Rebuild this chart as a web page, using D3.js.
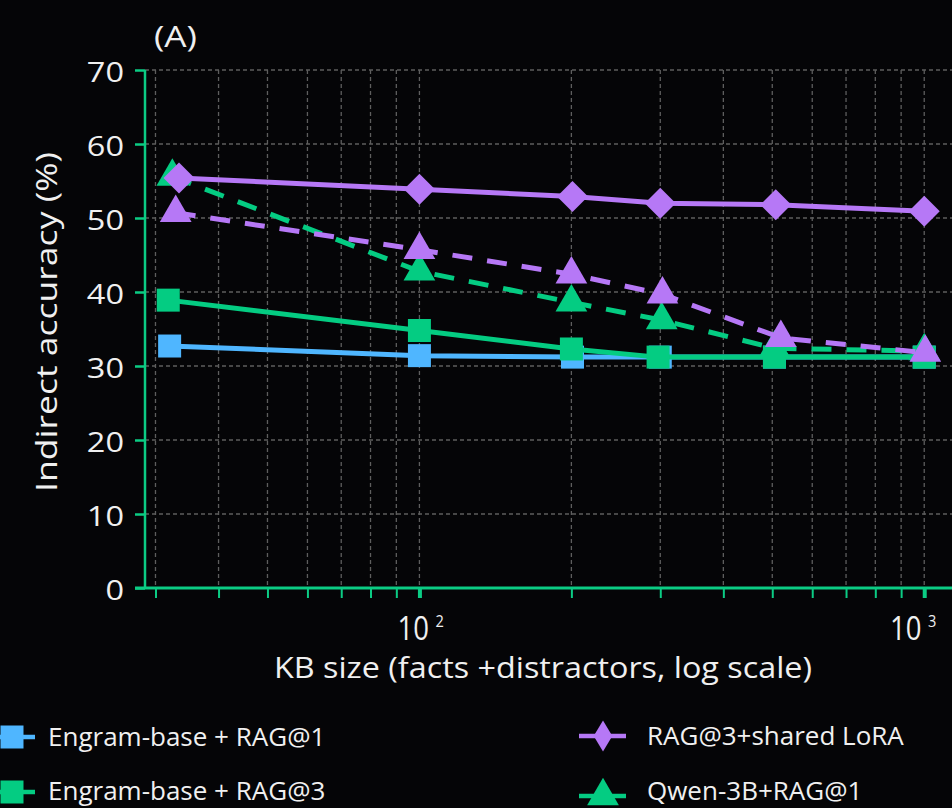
<!DOCTYPE html>
<html><head><meta charset="utf-8">
<script src="https://cdn.jsdelivr.net/npm/d3@7"></script>
<style>html,body{margin:0;padding:0;background:#050507;}svg{display:block;}</style>
</head><body>
<svg id="chart" width="952" height="808"></svg>
<script>
(function(){
// ---------- data ----------
const blueX   = [32, 100, 201, 300, 505, 1000];
const blueY   = [32.7, 31.4, 31.2, 31.2, 31.2, 31.2];
const greenSqX = [31.8, 100, 200, 297, 505, 1000];
const greenSqY = [38.9, 34.8, 32.3, 31.2, 31.2, 31.2];
const greenTriX = [32.4, 100, 200, 302, 505, 1000];
const greenTriY = [55.6, 42.8, 38.6, 36.2, 32.4, 32.0];
const purpleTriX = [32.9, 100, 200, 303, 520, 1005];
const purpleTriY = [50.7, 45.7, 42.4, 39.7, 33.8, 31.8];
const diamondX = [33.4, 100, 201, 300, 508, 1000];
const diamondY = [55.4, 53.9, 52.9, 52.0, 51.8, 50.9];
const yTicks = [0, 10, 20, 30, 40, 50, 60, 70];
const xMinorTicks = [30,40,50,60,70,80,90,100,200,300,400,500,600,700,800,900,1000];
const xMajorTicks = [100, 1000];
const xMajorExp = ["2","3"];
const legendLeft = ["Engram-base + RAG@1","Engram-base + RAG@3"];
const legendRight = ["RAG@3+shared LoRA","Qwen-3B+RAG@1"];

// ---------- setup ----------
const C = {blue:"#4fb6ff", green:"#04cc82", purple:"#b678f6", axis:"#0bcc84", grid:"#5e5e5e", text:"#f0f0f0"};
const svg = d3.select("#chart");
svg.append("rect").attr("width",952).attr("height",808).attr("fill","#050507");

const pLeft = 145, pTop = 70, pBottom = 588;
const decadePx = 504.8;
const xMin = 28.6, xMax = 1180;
const x = d3.scaleLog().domain([xMin, xMax]).range([pLeft, pLeft + decadePx*Math.log10(xMax/xMin)]);
const y = d3.scaleLinear().domain([0, 70]).range([pBottom, pTop]);
const font = "'Open Sans', 'Noto Sans', sans-serif";

// grid
const g = svg.append("g");
g.selectAll(".vg").data(xMinorTicks).join("line")
  .attr("x1", d=>x(d)).attr("x2", d=>x(d)).attr("y1", pTop).attr("y2", pBottom)
  .attr("stroke", C.grid).attr("stroke-width", 1.3).attr("stroke-dasharray","4,3");
g.selectAll(".hg").data(yTicks.filter(d=>d>0)).join("line")
  .attr("x1", pLeft).attr("x2", 952).attr("y1", d=>y(d)).attr("y2", d=>y(d))
  .attr("stroke", C.grid).attr("stroke-width", 1.3).attr("stroke-dasharray","4,3");

// axes
const yAxis = d3.axisLeft(y).tickValues(yTicks).tickSize(10).tickFormat("");
const ya = svg.append("g").attr("transform",`translate(${pLeft},0)`).call(yAxis);
ya.select(".domain").attr("stroke", C.axis).attr("stroke-width", 2.5).attr("d", `M0,${pTop}V${pBottom}`);
ya.selectAll(".tick line").attr("stroke", C.axis).attr("stroke-width", 2.5);
svg.selectAll(".ylab").data(yTicks).join("text")
  .attr("transform", d=>`translate(124,${y(d)+12}) scale(1.16,1)`).attr("text-anchor","end")
  .attr("font-family", font).attr("font-size", 28).attr("fill", C.text).text(d=>d);

const xAxis = d3.axisBottom(x).tickValues(xMinorTicks).tickSize(10).tickFormat("");
const xa = svg.append("g").attr("transform",`translate(0,${pBottom})`).call(xAxis);
xa.select(".domain").attr("stroke", C.axis).attr("stroke-width", 3).attr("d", `M135,0H952`);
xa.selectAll(".tick line").attr("stroke", C.axis).attr("stroke-width", d=>xMajorTicks.includes(d)?4:2);

xMajorTicks.forEach((v,i)=>{
  let cx = x(v) + 2;
  const half = 24;
  if (cx + half > 938) cx = 938 - half;
  const t = svg.append("g").attr("transform",`translate(${cx},640)`);
  t.append("text").attr("x",-half/0.86).attr("y",0).attr("font-family",font).attr("font-size",32)
    .attr("fill",C.text).attr("transform","scale(0.86,1)").attr("text-anchor","start")
    .text("10");
  t.append("text").attr("x",14/0.86).attr("y",-13).attr("font-family",font).attr("font-size",17)
    .attr("fill",C.text).attr("transform","scale(0.86,1)").text(xMajorExp[i]);
});

svg.append("text").attr("x",274).attr("y",678)
  .attr("textLength",538).attr("lengthAdjust","spacingAndGlyphs")
  .attr("font-family",font).attr("font-size",30).attr("fill",C.text)
  .text("KB size (facts +distractors, log scale)");
svg.append("text").attr("transform","translate(45,492) rotate(-90)")
  .attr("dominant-baseline","central")
  .attr("textLength",340).attr("lengthAdjust","spacingAndGlyphs")
  .attr("font-family",font).attr("font-size",30).attr("fill",C.text)
  .text("Indirect accuracy (%)");
svg.append("text").attr("x",154).attr("y",47)
  .attr("textLength",43).attr("lengthAdjust","spacingAndGlyphs")
  .attr("font-family",font).attr("font-size",29)
  .attr("fill",C.text).text("(A)");

// symbols
const diamondSym = {draw(ctx, size){ const r = Math.sqrt(size)/2; ctx.moveTo(0,-r); ctx.lineTo(r,0); ctx.lineTo(0,r); ctx.lineTo(-r,0); ctx.closePath(); }};
const thinDiamondSym = {draw(ctx, size){ const r = Math.sqrt(size)/2; ctx.moveTo(0,-r); ctx.lineTo(r*0.6,0); ctx.lineTo(0,r); ctx.lineTo(-r*0.6,0); ctx.closePath(); }};
const sqSym = d3.symbol().type(d3.symbolSquare).size(529);
const triSym = d3.symbol().type(d3.symbolTriangle).size(437);
const diaSym = d3.symbol().type(diamondSym).size(31*31);

const series = [
  {xs: blueX, ys: blueY, color: C.blue, dash: null, sym: sqSym},
  {xs: greenSqX, ys: greenSqY, color: C.green, dash: null, sym: sqSym},
  {xs: greenTriX, ys: greenTriY, color: C.green, dash: "20,15", sym: triSym},
  {xs: purpleTriX, ys: purpleTriY, color: C.purple, dash: "20,15", sym: triSym},
  {xs: diamondX, ys: diamondY, color: C.purple, dash: null, sym: diaSym},
];
const line = d3.line().x(d=>x(d[0])).y(d=>y(d[1]));
series.forEach(s=>{
  const pts = s.xs.map((v,i)=>[v, s.ys[i]]);
  const sg = svg.append("g");
  sg.append("path").attr("d", line(pts)).attr("fill","none").attr("stroke", s.color)
    .attr("stroke-width", 5).attr("stroke-dasharray", s.dash);
  sg.selectAll("path.m").data(pts).join("path").attr("class","m")
    .attr("transform", d=>`translate(${x(d[0])},${y(d[1])})`)
    .attr("d", s.sym()).attr("fill", s.color);
});

// legend
const lg = svg.append("g");
const legendItems = [
  {label: legendLeft[0], color: C.blue, sym: sqSym, cx: 12, cy: 737, tx: 48, ty: 746},
  {label: legendLeft[1], color: C.green, sym: sqSym, cx: 12, cy: 792, tx: 48, ty: 800},
  {label: legendRight[0], color: C.purple, sym: d3.symbol().type(thinDiamondSym).size(31*31), cx: 603, cy: 736, tx: 647, ty: 745},
  {label: legendRight[1], color: C.green, sym: triSym, cx: 603, cy: 796, tx: 647, ty: 800},
];
legendItems.forEach(it=>{
  lg.append("line").attr("x1", it.cx-24).attr("x2", it.cx+23).attr("y1", it.cy).attr("y2", it.cy)
    .attr("stroke", it.color).attr("stroke-width", 4.5);
  lg.append("path").attr("transform",`translate(${it.cx},${it.cy})`).attr("d", it.sym()).attr("fill", it.color);
  lg.append("text").attr("x", it.tx).attr("y", it.ty).attr("font-family",font).attr("font-size",26)
    .attr("fill",C.text).text(it.label);
});
})();
</script>
</body></html>
